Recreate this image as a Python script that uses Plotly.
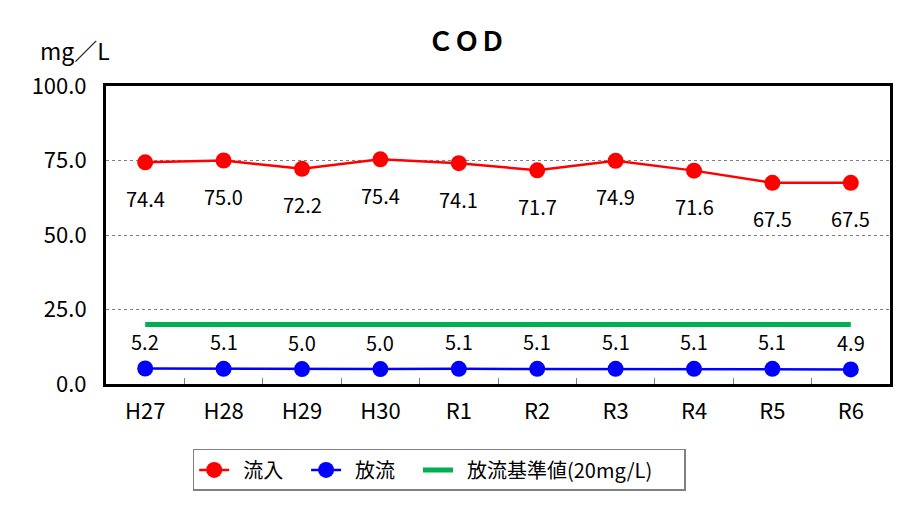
import plotly.graph_objects as go

years = ["H27", "H28", "H29", "H30", "R1", "R2", "R3", "R4", "R5", "R6"]
inflow = [74.4, 75.0, 72.2, 75.4, 74.1, 71.7, 74.9, 71.6, 67.5, 67.5]
outflow = [5.2, 5.1, 5.0, 5.0, 5.1, 5.1, 5.1, 5.1, 5.1, 4.9]
standard = [20] * len(years)

FONT = "Noto Sans CJK JP"
PAD = "\u00a0\u00a0"

fig = go.Figure()
fig.add_trace(go.Scatter(
    x=years, y=inflow, name=PAD + "流入" + PAD * 2, mode="lines+markers",
    line=dict(color="#ff0000", width=2.5),
    marker=dict(color="#ff0000", size=16),
))
fig.add_trace(go.Scatter(
    x=years, y=outflow, name=PAD + "放流" + PAD * 2, mode="lines+markers",
    line=dict(color="#0000ff", width=2.5),
    marker=dict(color="#0000ff", size=16),
))
fig.add_trace(go.Scatter(
    x=years, y=standard, name=PAD + "放流基準値(20mg/L)" + PAD * 3, mode="lines",
    line=dict(color="#00b050", width=5),
))

# data labels: inflow below the points, outflow above
for x, v in zip(years, inflow):
    fig.add_annotation(x=x, y=v, text=f"{v:.1f}", showarrow=False,
                       yshift=-36, font=dict(size=20, color="black", family=FONT))
for x, v in zip(years, outflow):
    fig.add_annotation(x=x, y=v, text=f"{v:.1f}", showarrow=False,
                       yshift=27, font=dict(size=20, color="black", family=FONT))

fig.add_annotation(text="mg／L", xref="paper", yref="paper", x=-0.04, y=1.12,
                   showarrow=False, xanchor="center", yanchor="middle",
                   font=dict(size=23, color="black", family=FONT))

# the page body adds an 8px offset, so margins are shifted to compensate
fig.update_layout(
    width=913, height=528,
    margin=dict(l=98, r=31, t=78, b=152),
    paper_bgcolor="white", plot_bgcolor="white",
    font=dict(family=FONT, color="black"),
    title=dict(text="<b>ＣＯＤ</b>", xref="paper", x=0.46, xanchor="center",
               y=0.936, yanchor="middle", font=dict(size=26, family=FONT)),
    showlegend=True,
    legend=dict(orientation="h", x=0.425, xanchor="center", y=-0.218, yanchor="top",
                bordercolor="#808080", borderwidth=1.5,
                font=dict(size=20, family=FONT), tracegroupgap=0),
)
fig.update_xaxes(
    type="category", range=[-0.5, 9.5],
    showline=True, linecolor="black", linewidth=3, mirror=True,
    ticks="inside", tickson="boundaries", ticklen=6, tickcolor="#808080",
    tickfont=dict(size=22, family=FONT), showgrid=False, ticklabelstandoff=6,
)
fig.update_yaxes(
    range=[0, 100], tickvals=[0, 25, 50, 75, 100], tickformat=".1f",
    showline=True, linecolor="black", linewidth=3, mirror=True,
    showgrid=True, gridcolor="#808080", griddash="dot", gridwidth=1,
    tickfont=dict(size=22, family=FONT), ticks="", zeroline=False,
    ticklabelstandoff=12,
)

fig.write_html("out.html")
